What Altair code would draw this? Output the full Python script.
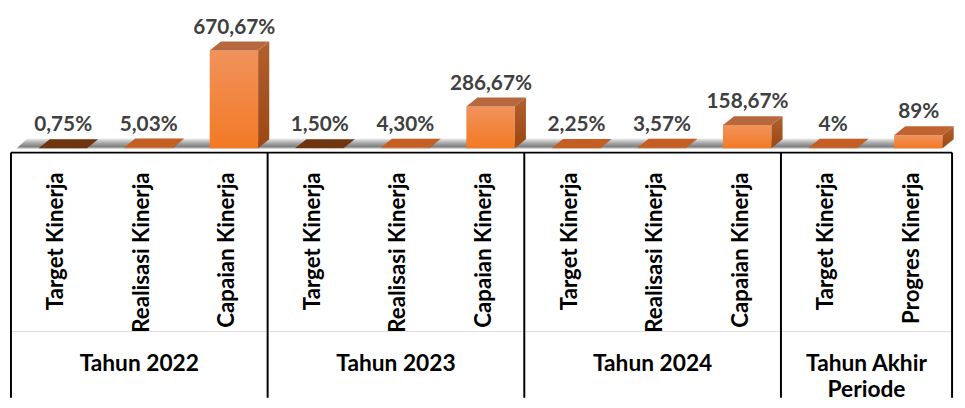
import altair as alt
import pandas as pd

# ---------------- data ----------------
categories = ["Target Kinerja", "Realisasi Kinerja", "Capaian Kinerja",
              "Target Kinerja", "Realisasi Kinerja", "Capaian Kinerja",
              "Target Kinerja", "Realisasi Kinerja", "Capaian Kinerja",
              "Target Kinerja", "Progres Kinerja"]
groups = (["Tahun 2022"] * 3 + ["Tahun 2023"] * 3 + ["Tahun 2024"] * 3
          + ["Tahun Akhir\nPeriode"] * 2)
values = [0.75, 5.03, 670.67, 1.50, 4.30, 286.67, 2.25, 3.57, 158.67, 4, 89]
value_labels = ["0,75%", "5,03%", "670,67%", "1,50%", "4,30%", "286,67%",
                "2,25%", "3,57%", "158,67%", "4%", "89%"]
top_colors = ["#6e3511", "#c45e22", "#b8683e", "#6e3511", "#c45e22", "#b8683e",
              "#c45e22", "#c45e22", "#b8683e", "#c45e22", "#bf6430"]

# ---------------- layout constants ----------------
N = len(categories)
FONT = "Lato"
L, R = 0.323, 0.889       # front face within each band
DX, DY = 0.13, 61         # 3-D depth offsets (x units, value units)
YMIN, YMAX = -30, 946
W, H1, H2 = 952, 144, 248

xs = alt.Scale(domain=[0, N], nice=False, zero=False)
ys = alt.Scale(domain=[YMIN, YMAX], nice=False, zero=False)

bars = pd.DataFrame({"i": range(N), "cat": categories, "group": groups,
                     "v": values, "label": value_labels, "top": top_colors})
bars["base"] = 0.0
bars["xl"] = bars["i"] + L
bars["xr"] = bars["i"] + R
bars["xt"] = bars["i"] + 0.61
bars["yt"] = bars["v"] + DY

side_rows, top_rows = [], []
for i, v in zip(bars["i"], bars["v"]):
    side_rows.append({"i": i, "x": i + R, "lo": 0.0, "hi": v})
    side_rows.append({"i": i, "x": i + R + DX, "lo": DY, "hi": v + DY})
    top_rows.append({"i": i, "y": v, "xl": i + L, "xr": i + R, "top": top_colors[i]})
    top_rows.append({"i": i, "y": v + DY, "xl": i + L + DX, "xr": i + R + DX,
                     "top": top_colors[i]})
side_df = pd.DataFrame(side_rows)
top_df = pd.DataFrame(top_rows)
floor_df = pd.DataFrame({"y": [-3.0, 65.0], "xl": [0.06, 0.06 + DX],
                         "xr": [N - DX, N]})


def grad(stops):
    return alt.Gradient(gradient="linear", x1=0, y1=0, x2=0, y2=1,
                        stops=[alt.GradientStop(offset=o, color=c) for o, c in stops])


floor = alt.Chart(floor_df).mark_area(
    orient="horizontal",
    color=grad([(0, "#e8e8e8"), (0.45, "#a6a6a6"), (0.8, "#7f7f7f"), (1, "#d0d0d0")])
).encode(
    y=alt.Y("y:Q", scale=ys, axis=None),
    x=alt.X("xl:Q", scale=xs, axis=None),
    x2="xr:Q",
)

front = alt.Chart(bars).mark_rect(
    color=grad([(0, "#f1925c"), (1, "#f27a24")])
).encode(
    x=alt.X("xl:Q", scale=xs, axis=None),
    x2="xr:Q",
    y=alt.Y("base:Q", scale=ys, axis=None),
    y2="v:Q",
)

side = alt.Chart(side_df).mark_area(
    orient="vertical",
    color=grad([(0, "#b0602e"), (1, "#9c4714")])
).encode(
    x=alt.X("x:Q", scale=xs, axis=None),
    y=alt.Y("lo:Q", scale=ys, axis=None),
    y2="hi:Q",
    detail="i:N",
)

topf = alt.Chart(top_df).mark_area(orient="horizontal").encode(
    y=alt.Y("y:Q", scale=ys, axis=None),
    x=alt.X("xl:Q", scale=xs, axis=None),
    x2="xr:Q",
    color=alt.Color("top:N", scale=None),
    detail="i:N",
)

labels = alt.Chart(bars).mark_text(
    font=FONT, fontSize=21, fontWeight="bold", color="#404040",
    baseline="alphabetic", align="center", dy=-8
).encode(
    x=alt.X("xt:Q", scale=xs, axis=None),
    y=alt.Y("yt:Q", scale=ys, axis=None),
    text="label:N",
)

top_chart = alt.layer(floor, front, side, topf, labels).properties(width=W, height=H1)

# ---------------- table below ----------------
ts = alt.Scale(domain=[0, H2], reverse=True, nice=False, zero=False)

bounds = [0]
gnames, gcenters = [], []
start = 0
for k in range(1, N + 1):
    if k == N or groups[k] != groups[start]:
        gnames.append(groups[start])
        gcenters.append((start + k) / 2)
        bounds.append(k)
        start = k

vl_df = pd.DataFrame({"x": bounds, "y0": 0.0, "y1": float(H2)})
hl_df = pd.DataFrame({"x0": [0.0], "x1": [float(N)], "y": [0.0]})
sep_df = pd.DataFrame({"x0": [0.0], "x1": [float(N)], "y": [181.0]})
cat_df = pd.DataFrame({"xc": [i + 0.53 for i in range(N)], "yc": 20.0, "cat": categories})
grp_df = pd.DataFrame({"gx": gcenters, "gy": 220.7, "g": gnames})

vlines = alt.Chart(vl_df).mark_rule(color="black", strokeWidth=2).encode(
    x=alt.X("x:Q", scale=xs, axis=None),
    y=alt.Y("y0:Q", scale=ts, axis=None),
    y2="y1:Q",
)
hline = alt.Chart(hl_df).mark_rule(color="black", strokeWidth=2).encode(
    x=alt.X("x0:Q", scale=xs, axis=None),
    x2="x1:Q",
    y=alt.Y("y:Q", scale=ts, axis=None),
)
sep = alt.Chart(sep_df).mark_rule(color="#dddddd", strokeWidth=1).encode(
    x=alt.X("x0:Q", scale=xs, axis=None),
    x2="x1:Q",
    y=alt.Y("y:Q", scale=ts, axis=None),
)
cat_text = alt.Chart(cat_df).mark_text(
    font=FONT, fontSize=22.5, fontWeight="bold", color="black",
    angle=270, align="right", baseline="middle"
).encode(
    x=alt.X("xc:Q", scale=xs, axis=None),
    y=alt.Y("yc:Q", scale=ts, axis=None),
    text="cat:N",
)
grp_text = alt.Chart(grp_df).mark_text(
    font=FONT, fontSize=23, fontWeight="bold", color="black",
    align="center", baseline="alphabetic", lineBreak="\n", lineHeight=26.5
).encode(
    x=alt.X("gx:Q", scale=xs, axis=None),
    y=alt.Y("gy:Q", scale=ts, axis=None),
    text="g:N",
)

table_chart = alt.layer(sep, vlines, hline, cat_text, grp_text).properties(width=W, height=H2)

chart = alt.vconcat(top_chart, table_chart, spacing=0, bounds="flush").properties(
    padding={"left": 2, "top": 0, "right": 3, "bottom": 0}
).configure_view(stroke=None)

chart.save("out.html", embed_options={"renderer": "svg", "actions": False})
